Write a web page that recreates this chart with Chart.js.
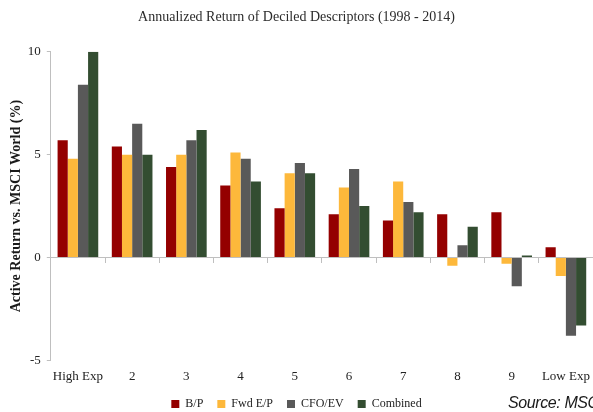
<!DOCTYPE html>
<html>
<head>
<meta charset="utf-8">
<script src="https://cdn.jsdelivr.net/npm/chart.js@4.4.1/dist/chart.umd.min.js"></script>
<style>
  html, body { margin: 0; padding: 0; background: #fff; }
  #wrap { position: relative; width: 593px; height: 412px; overflow: hidden; }
  #source {
    position: absolute; left: 508px; top: 394px; line-height: 18px;
    font: italic 16px "Liberation Sans", "DejaVu Sans", sans-serif;
    letter-spacing: -0.4px; color: #1a1a1a; white-space: nowrap;
  }
</style>
</head>
<body>
<div id="wrap">
  <canvas id="chart" width="593" height="412"></canvas>
  <div id="source">Source: MSCI</div>
</div>
<script>
  // Deciles, from highest to lowest exposure
  const deciles = ['High Exp', '2', '3', '4', '5', '6', '7', '8', '9', 'Low Exp'];

  // Active return vs. MSCI World (%)
  const bookToPrice = [5.7, 5.4, 4.4, 3.5, 2.4, 2.1, 1.8, 2.1, 2.2, 0.5];
  const fwdEarningsToPrice = [4.8, 5.0, 5.0, 5.1, 4.1, 3.4, 3.7, -0.4, -0.3, -0.9];
  const cfoToEv = [8.4, 6.5, 5.7, 4.8, 4.6, 4.3, 2.7, 0.6, -1.4, -3.8];
  const combined = [10.0, 5.0, 6.2, 3.7, 4.1, 2.5, 2.2, 1.5, 0.1, -3.3];

  const yTicks = [-5, 0, 5, 10];

  const serif = '"Liberation Serif", "DejaVu Serif", serif';
  const axisGray = '#BFBFBF';

  new Chart(document.getElementById('chart'), {
    type: 'bar',
    data: {
      labels: deciles,
      datasets: [
        { label: 'B/P', data: bookToPrice, backgroundColor: '#940000' },
        { label: 'Fwd E/P', data: fwdEarningsToPrice, backgroundColor: '#FDB83B' },
        { label: 'CFO/EV', data: cfoToEv, backgroundColor: '#595959' },
        { label: 'Combined', data: combined, backgroundColor: '#334D31' }
      ]
    },
    options: {
      responsive: false,
      animation: false,
      datasets: {
        bar: { barPercentage: 1.0, categoryPercentage: 0.75 }
      },
      layout: { padding: { left: 0, right: 0, top: 0, bottom: -8 } },
      plugins: {
        title: {
          display: true,
          text: 'Annualized Return of Deciled Descriptors (1998 - 2014)',
          color: '#2b2b2b',
          font: { family: serif, size: 14, weight: 'normal' },
          padding: { top: 9, bottom: 26 }
        },
        legend: {
          position: 'bottom',
          labels: {
            color: '#222',
            font: { family: serif, size: 12 },
            boxWidth: 8,
            boxHeight: 8,
            padding: 14
          }
        },
        tooltip: { enabled: false }
      },
      scales: {
        x: {
          type: 'category',
          position: 'bottom',
          grid: { display: false },
          border: { display: false },
          ticks: {
            color: '#222',
            font: { family: serif, size: 13 },
            padding: 0,
            maxRotation: 0
          }
        },
        // zero line with small ticks between deciles
        xZero: {
          type: 'category',
          position: { y: 0 },
          offset: true,
          grid: { offset: true, drawOnChartArea: false, tickLength: 5, color: axisGray },
          border: { color: axisGray },
          ticks: { display: false }
        },
        y: {
          min: -5,
          max: 10,
          afterBuildTicks: (scale) => {
            scale.ticks = yTicks.map(v => ({ value: v }));
          },
          grid: { drawOnChartArea: false, tickLength: 4, color: axisGray },
          border: { color: axisGray },
          ticks: {
            color: '#222',
            font: { family: serif, size: 13 },
            padding: 6
          },
          title: {
            display: true,
            text: 'Active Return vs. MSCI World (%)',
            color: '#1a1a1a',
            font: { family: serif, size: 14, weight: 'bold' },
            padding: { top: 8, bottom: -3 }
          }
        }
      }
    }
  });
</script>
</body>
</html>
